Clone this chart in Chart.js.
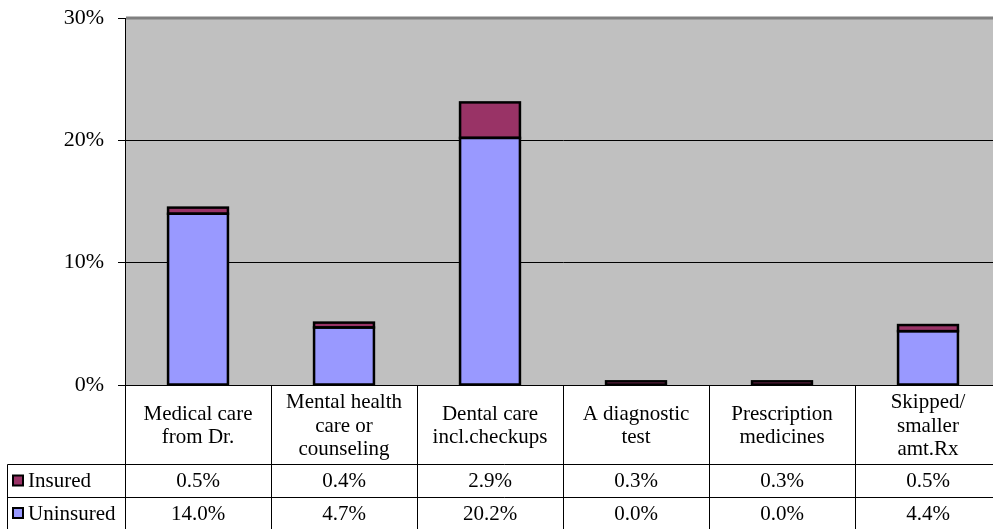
<!DOCTYPE html>
<html>
<head>
<meta charset="utf-8">
<script src="https://cdn.jsdelivr.net/npm/chart.js@4"></script>
<style>
  html, body { margin: 0; padding: 0; overflow: hidden; background: #fff; }
  #wrap { position: relative; width: 1001px; height: 529px; }
</style>
</head>
<body>
<div id="wrap"><canvas id="c"></canvas></div>
<script>
// Categories (multi-line headers of the data table)
const categories = [
  ['Medical care', 'from Dr.'],
  ['Mental health', 'care or', 'counseling'],
  ['Dental care', 'incl.checkups'],
  ['A diagnostic', 'test'],
  ['Prescription', 'medicines'],
  ['Skipped/', 'smaller', 'amt.Rx']
];
// Series values, in percent
const insured   = [0.5, 0.4, 2.9, 0.3, 0.3, 0.5];
const uninsured = [14.0, 4.7, 20.2, 0.0, 0.0, 4.4];
// Y axis ticks, in percent
const yTicks = [0, 10, 20, 30];

const COLORS = { Insured: '#993366', Uninsured: '#9999FF' };
const FONT = '"Liberation Serif", "Times New Roman", serif';

Chart.defaults.color = '#000';
Chart.defaults.font.family = FONT;

// Black outlines centred on each bar segment's edges
const outlinePlugin = {
  id: 'segmentOutline',
  afterDatasetsDraw(chart) {
    const ctx = chart.ctx;
    ctx.save();
    ctx.strokeStyle = '#000';
    ctx.lineWidth = 2.5;
    chart.data.datasets.forEach((ds, di) => {
      const meta = chart.getDatasetMeta(di);
      meta.data.forEach((el, i) => {
        if (!ds.data[i]) return;
        const { x, y, base, width } = el.getProps(['x', 'y', 'base', 'width'], true);
        const top = Math.min(y, base);
        ctx.strokeRect(x - width / 2, top, width, Math.abs(base - y));
      });
    });
    ctx.restore();
  }
};

// Plot background, top border and the data table under the plot
const tablePlugin = {
  id: 'dataTable',
  beforeDraw(chart) {
    const { ctx, chartArea: a } = chart;
    ctx.save();
    ctx.fillStyle = '#C0C0C0';
    ctx.fillRect(a.left, a.top, a.right - a.left, a.bottom - a.top);
    ctx.restore();
  },
  afterDraw(chart) {
    const { ctx, chartArea: a } = chart;
    const xs = chart.scales.x;
    const n = categories.length;
    const colW = (a.right - a.left) / n;
    const H = chart.height;
    const row1 = 464, row2 = 497;

    ctx.save();
    // gray top border of the plot
    ctx.strokeStyle = '#808080';
    ctx.lineWidth = 3;
    ctx.beginPath();
    ctx.moveTo(a.left + 1, a.top);
    ctx.lineTo(a.right, a.top);
    ctx.stroke();

    // table grid
    ctx.strokeStyle = '#000';
    ctx.lineWidth = 1;
    ctx.beginPath();
    for (let i = 0; i <= n; i++) {
      const x = Math.round(a.left + i * colW) + 0.5;
      ctx.moveTo(x, a.bottom);
      ctx.lineTo(x, H);
    }
    ctx.moveTo(7.5, row1 + 0.5); ctx.lineTo(a.right, row1 + 0.5);
    ctx.moveTo(7.5, row2 + 0.5); ctx.lineTo(a.right, row2 + 0.5);
    ctx.moveTo(7.5, row1 + 0.5); ctx.lineTo(7.5, H);
    ctx.stroke();

    ctx.fillStyle = '#000';
    ctx.font = '21px ' + FONT;
    ctx.textAlign = 'center';
    ctx.textBaseline = 'middle';

    // category headers
    const lh = 23.5;
    const headMid = 426;
    categories.forEach((lines, i) => {
      const cx = xs.getPixelForValue(i);
      const y0 = headMid - (lines.length - 1) * lh / 2;
      lines.forEach((t, k) => ctx.fillText(t, cx, y0 + k * lh));
    });

    // value rows
    const rows = [
      { name: 'Insured', values: insured, y: (row1 + row2) / 2 + 1 },
      { name: 'Uninsured', values: uninsured, y: (row2 + H) / 2 + 1 }
    ];
    rows.forEach(r => {
      r.values.forEach((v, i) => {
        ctx.fillText(v.toFixed(1) + '%', xs.getPixelForValue(i), r.y);
      });
      // legend key
      ctx.fillStyle = COLORS[r.name];
      ctx.fillRect(13, r.y - 6, 10, 10);
      ctx.lineWidth = 2;
      ctx.strokeStyle = '#000';
      ctx.strokeRect(13, r.y - 6, 10, 10);
      ctx.fillStyle = '#000';
      ctx.textAlign = 'left';
      ctx.fillText(r.name, 28, r.y);
      ctx.textAlign = 'center';
    });
    ctx.restore();
  }
};

new Chart(document.getElementById('c'), {
  type: 'bar',
  data: {
    labels: categories.map(c => c.join(' ')),
    datasets: [
      {
        label: 'Uninsured',
        data: uninsured,
        backgroundColor: COLORS.Uninsured,
        borderWidth: 0,
        barPercentage: 0.41,
        categoryPercentage: 1
      },
      {
        label: 'Insured',
        data: insured,
        backgroundColor: COLORS.Insured,
        borderWidth: 0,
        barPercentage: 0.41,
        categoryPercentage: 1
      }
    ]
  },
  options: {
    responsive: true,
    maintainAspectRatio: false,
    animation: false,
    layout: { padding: { top: 18, bottom: 144, left: 0, right: 0 } },
    plugins: { legend: { display: false }, tooltip: { enabled: false } },
    scales: {
      x: { stacked: true, display: false },
      y: {
        stacked: true,
        min: yTicks[0],
        max: yTicks[yTicks.length - 1],
        afterBuildTicks: s => { s.ticks = yTicks.map(v => ({ value: v })); },
        afterFit: s => { s.width = 125; s.paddingTop = 0; s.paddingBottom = 0; },
        ticks: {
          callback: v => v + '%',
          font: { size: 22, family: FONT },
          color: '#000',
          padding: 14
        },
        grid: { color: '#000', lineWidth: 1, tickLength: 7 },
        border: { color: '#000', width: 1 }
      }
    }
  },
  plugins: [outlinePlugin, tablePlugin]
});
</script>
</body>
</html>
